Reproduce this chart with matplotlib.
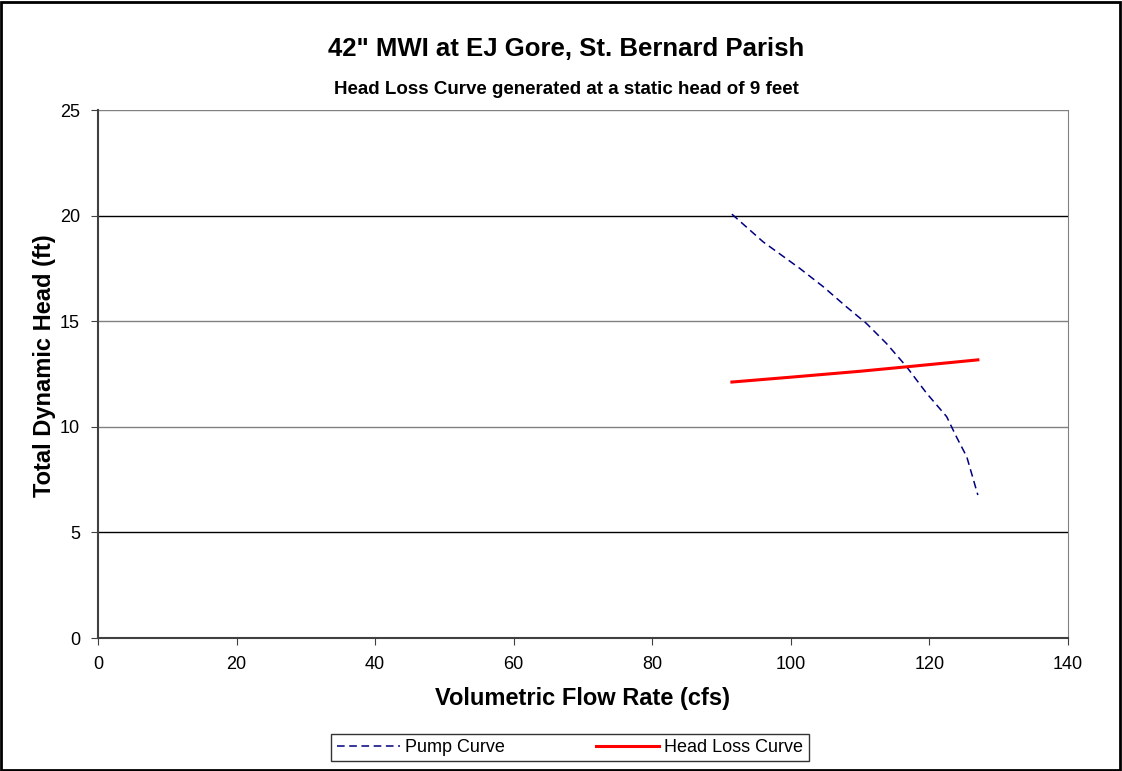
import matplotlib.pyplot as plt
from matplotlib.patches import Rectangle

plt.rcParams['font.family'] = ['Liberation Sans', 'DejaVu Sans']

# pump curve
pump_flow = [91.5, 96.0, 101.3, 104.7, 108.0, 110.9, 113.8, 116.7, 119.6, 122.5, 123.9, 125.4, 127.0]
pump_head = [20.07, 18.76, 17.5, 16.63, 15.69, 14.9, 13.95, 12.85, 11.59, 10.48, 9.53, 8.58, 6.77]

# system head loss curve
loss_flow = [91.5, 100, 110, 117, 127]
loss_head = [12.12, 12.35, 12.63, 12.85, 13.17]

x_ticks = [0, 20, 40, 60, 80, 100, 120, 140]
y_ticks = [0, 5, 10, 15, 20, 25]
grid_colors = {5: 'black', 10: '#808080', 15: '#808080', 20: 'black', 25: '#808080'}

fig = plt.figure(figsize=(11.22, 7.71), dpi=100)
fig.patches.append(Rectangle((0.001, 0.001), 0.997, 0.997, transform=fig.transFigure,
                             fill=False, edgecolor='black', linewidth=2))

ax = fig.add_axes([0.0873, 0.1725, 0.8645, 0.6848])
for y, c in grid_colors.items():
    ax.axhline(y, color=c, linewidth=1, zorder=0)

ax.plot(pump_flow, pump_head, color='#000080', linestyle=(0, (5, 3)), linewidth=1.1, label='Pump Curve')
ax.plot(loss_flow, loss_head, color='red', linewidth=2.2, label='Head Loss Curve')

ax.set_xlim(0, 140)
ax.set_ylim(0, 25)
ax.set_xticks(x_ticks)
ax.set_yticks(y_ticks)
ax.tick_params(labelsize=13, length=5, color='#404040', pad=8)
ax.spines['top'].set_visible(False)
ax.spines['right'].set_color('#808080')
ax.spines['left'].set_color('#404040')
ax.spines['bottom'].set_color('#404040')
ax.spines['left'].set_linewidth(1.5)
ax.spines['bottom'].set_linewidth(1.5)

ax.set_xlabel('Volumetric Flow Rate (cfs)', fontsize=17, fontweight='bold', labelpad=10)
ax.set_ylabel('Total Dynamic Head (ft)', fontsize=17, fontweight='bold')
ax.yaxis.set_label_coords(-0.043, 0.515)

fig.text(0.5045, 0.937, '42" MWI at EJ Gore, St. Bernard Parish', ha='center', va='center',
         fontsize=18.5, fontweight='bold')
fig.text(0.5045, 0.884, 'Head Loss Curve generated at a static head of 9 feet', ha='center', va='center',
         fontsize=13.5, fontweight='bold')

leg = fig.legend(loc='center', bbox_to_anchor=(0.508, 0.0305), ncol=2, fontsize=13,
                 frameon=True, fancybox=False, edgecolor='black', handlelength=3.5,
                 handletextpad=0.3, columnspacing=5, borderpad=0.3)
leg.get_frame().set_linewidth(1)

fig.savefig('out.png', dpi=100)
